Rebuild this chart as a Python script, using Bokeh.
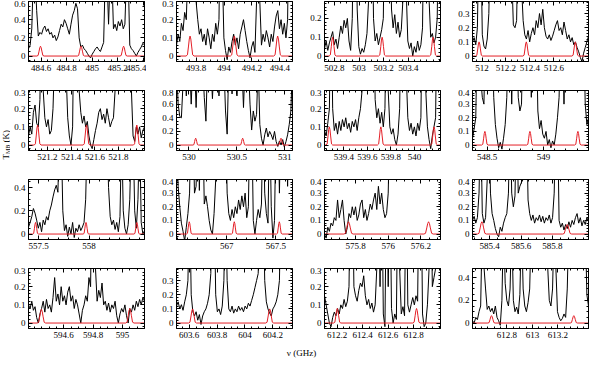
import numpy as np
from bokeh.plotting import figure
from bokeh.layouts import row, column
from bokeh.models import Range1d, LinearAxis, FixedTicker, CustomJSTickFormatter, CustomLabelingPolicy
from bokeh.core.properties import value
from bokeh.embed import file_html
from bokeh.resources import INLINE

FONT = "Liberation Serif"
RED = "#e41e26"

# ---------------- data ----------------
# frequency limits of each panel (GHz)
x_lo = [484.50, 493.66, 502.72, 511.92, 521.04, 529.87, 539.236, 548.37,
        557.40, 566.49, 575.61, 585.29, 594.36, 603.51, 612.10, 612.53]
x_hi = [485.41, 494.49, 503.66, 512.89, 522.02, 531.08, 540.22, 549.40,
        558.55, 567.67, 576.32, 586.03, 595.15, 604.34, 613.01, 613.44]
# upper limit of T_MB axis (K)
y_top = [0.6, 0.3, 0.29, 0.385, 0.3, 0.8, 0.3, 0.4,
         0.47, 0.4, 0.4, 0.4, 0.3, 0.386, 0.3, 0.48]

x_tick_labels = [
    ["484.6", "484.8", "485", "485.2", "485.4"],
    ["493.8", "494", "494.2", "494.4"],
    ["502.8", "503", "503.2", "503.4"],
    ["512", "512.2", "512.4", "512.6"],
    ["521.2", "521.4", "521.6", "521.8"],
    ["530", "530.5", "531"],
    ["539.4", "539.6", "539.8", "540"],
    ["548.5", "549"],
    ["557.5", "558"],
    ["567", "567.5"],
    ["575.8", "576", "576.2"],
    ["585.4", "585.6", "585.8"],
    ["594.6", "594.8", "595"],
    ["603.6", "603.8", "604", "604.2"],
    ["612.2", "612.4", "612.6", "612.8"],
    ["612.8", "613", "613.2"],
]
y_tick_labels = [
    ["0", "0.2", "0.4", "0.6"],
    ["0", "0.1", "0.2", "0.3"],
    ["0", "0.1", "0.2"],
    ["0", "0.1", "0.2", "0.3"],
    ["0", "0.1", "0.2", "0.3"],
    ["0", "0.2", "0.4", "0.6", "0.8"],
    ["0", "0.1", "0.2", "0.3"],
    ["0", "0.1", "0.2", "0.3", "0.4"],
    ["0", "0.2", "0.4"],
    ["0", "0.1", "0.2", "0.3", "0.4"],
    ["0", "0.1", "0.2", "0.3", "0.4"],
    ["0", "0.1", "0.2", "0.3", "0.4"],
    ["0", "0.1", "0.2", "0.3"],
    ["0", "0.1", "0.2", "0.3"],
    ["0", "0.1", "0.2", "0.3"],
    ["0", "0.2", "0.4"],
]

# observed spectra (K), evenly spaced channels across each panel
spec_p1 = [0.08, 0.12, 0.3, 0.9, 0.9, 0.5, 0.22, 0.26, 0.24, 0.3, 0.33, 0.27, 0.3, 0.24, 0.26, 0.2,
           0.23, 0.17, 0.21, 0.28, 0.35, 0.32, 0.4, 0.36, 0.3, 0.24, 0.35, 0.45, 0.5, 0.58, 0.52, 0.2,
           0.1, 0.12, 0.08, 0.06, 0.03, 0.0, -0.02, 0.02, 0.05, 0.08, 0.1, 0.07, 0.05, 0.1, 0.15, 0.9,
           0.9, 0.35, 0.9, 0.9, 0.3, 0.35, 0.28, 0.38, 0.33, 0.4, 0.3, 0.35, 0.9, 0.9, 0.12, 0.08,
           0.06, 0.03, 0.0, 0.04, 0.07, 0.1, 0.14, 0.12]
spec_p2 = [0.06, 0.12, 0.08, 0.18, 0.14, 0.24, 0.2, 0.5, 0.9, 0.9, 0.9, 0.6, 0.3, 0.2, 0.12, 0.15,
           0.08, 0.12, 0.06, 0.15, 0.1, 0.04, 0.12, 0.08, 0.18, 0.12, 0.2, 0.9, 0.5, 0.1, 0.03, -0.02,
           0.05, 0.02, 0.08, 0.12, 0.06, 0.1, 0.04, 0.12, 0.16, 0.2, 0.14, 0.08, 0.03, -0.01, 0.05, 0.08,
           0.02, 0.3, 0.9, 0.3, 0.06, 0.12, 0.08, 0.14, 0.1, 0.05, 0.12, 0.08, 0.16, 0.22, 0.25, 0.15,
           0.2, 0.12, 0.18, 0.1, 0.2, 0.9, 0.9, 0.5]
spec_p3 = [0.04, 0.08, 0.03, 0.07, 0.1, 0.13, 0.06, 0.09, 0.04, 0.1, 0.16, 0.12, 0.19, 0.15, 0.2, 0.08,
           0.03, 0.2, 0.9, 0.9, 0.25, 0.05, 0.01, 0.04, 0.02, 0.06, 0.12, 0.3, 0.9, 0.9, 0.2, 0.08,
           0.12, 0.06, 0.1, 0.14, 0.2, 0.9, 0.9, 0.9, 0.9, 0.25, 0.15, 0.22, 0.12, 0.18, 0.1, 0.14,
           0.3, 0.9, 0.35, 0.08, 0.04, 0.07, 0.0, 0.05, 0.02, 0.08, 0.03, 0.06, 0.15, 0.9, 0.5, 0.9,
           0.3, 0.1, 0.12, 0.07, 0.1, 0.2, 0.9, 0.9]
spec_p4 = [0.1, 0.13, 0.08, 0.2, 0.9, 0.9, 0.15, 0.07, 0.05, 0.12, 0.3, 0.9, 0.9, 0.9, 0.9, 0.9,
           0.9, 0.9, 0.9, 0.9, 0.9, 0.9, 0.9, 0.9, 0.6, 0.22, 0.2, 0.25, 0.9, 0.9, 0.5, 0.25,
           0.15, 0.12, 0.18, 0.1, 0.16, 0.2, 0.15, 0.25, 0.2, 0.3, 0.22, 0.33, 0.2, 0.14, 0.12, 0.15,
           0.11, 0.14, 0.18, 0.22, 0.25, 0.18, 0.2, 0.15, 0.24, 0.18, 0.12, 0.15, 0.1, 0.13, 0.08, 0.1,
           0.06, 0.03, -0.01, -0.04, 0.02, 0.06, 0.1, 0.14]
spec_p5 = [0.05, 0.1, 0.06, 0.18, 0.22, 0.12, 0.1, 0.25, 0.9, 0.3, 0.15, 0.1, 0.14, 0.06, 0.08, 0.2,
           0.5, 0.9, 0.9, 0.9, 0.9, 0.9, 0.9, 0.4, 0.15, 0.05, 0.0, 0.1, 0.9, 0.9, 0.9, 0.3,
           0.18, 0.12, 0.16, 0.1, 0.13, 0.05, 0.0, -0.02, 0.03, 0.08, 0.12, 0.18, 0.2, 0.14, 0.17, 0.12,
           0.2, 0.15, 0.1, 0.13, 0.15, 0.3, 0.9, 0.4, 0.9, 0.9, 0.9, 0.9, 0.9, 0.9, 0.9, 0.3,
           0.05, 0.02, 0.1, 0.06, 0.1, 0.04, 0.08, 0.1]
spec_p6 = [1.2, 0.6, 0.42, 0.4, 0.9, 1.2, 0.72, 1.2, 1.2, 0.6, 1.2, 1.2, 0.55, 1.2, 1.2, 1.2,
           1.2, 0.7, 0.35, 1.2, 1.2, 1.2, 0.68, 1.2, 1.2, 1.2, 0.72, 1.2, 1.2, 1.2, 0.5, 0.16,
           1.2, 1.2, 0.75, 1.2, 1.2, 0.72, 1.2, 1.2, 1.2, 0.55, 1.2, 1.2, 1.2, 0.6, 0.22, 0.5,
           0.35, 0.45, 1.2, 0.3, 0.1, 0.0, 0.15, 0.25, 0.12, 0.2, 0.15, 0.08, 0.2, 0.05, -0.02, 0.06,
           0.0, 0.08, -0.03, 0.05, 0.15, 0.3, 0.5, 1.2]
spec_p7 = [0.08, 0.05, 0.12, 0.2, 0.9, 0.2, 0.08, 0.12, 0.06, 0.13, 0.08, 0.14, 0.1, 0.15, 0.09, 0.12,
           0.07, 0.13, 0.1, 0.14, 0.08, 0.15, 0.2, 0.3, 0.9, 0.9, 0.9, 0.9, 0.9, 0.9, 0.9, 0.25,
           0.15, 0.2, 0.12, 0.18, 0.1, 0.2, 0.9, 0.3, 0.1, 0.06, 0.09, 0.03, 0.0, 0.06, 0.2, 0.9,
           0.9, 0.9, 0.4, 0.15, 0.08, 0.12, 0.06, 0.1, 0.05, 0.12, 0.08, 0.15, 0.9, 0.9, 0.3, 0.1,
           0.03, -0.02, 0.05, 0.1, 0.15, 0.9, 0.9, 0.9]
spec_p8 = [0.05, 0.12, 0.2, 0.9, 0.9, 0.5, 0.35, 0.3, 0.9, 0.9, 0.5, 0.9, 0.9, 0.35, 0.15, 0.05,
           -0.02, 0.02, -0.03, 0.05, 0.15, 0.35, 0.9, 0.9, 0.3, 0.9, 0.9, 0.9, 0.35, 0.25, 0.3, 0.9,
           0.9, 0.9, 0.9, 0.9, 0.35, 0.9, 0.9, 0.9, 0.25, 0.12, 0.18, 0.08, 0.05, 0.1, 0.0, 0.04,
           -0.02, 0.03, 0.0, 0.08, 0.2, 0.35, 0.9, 0.9, 0.3, 0.9, 0.9, 0.9, 0.9, 0.9, 0.9, 0.9,
           0.9, 0.9, 0.9, 0.9, 0.9, 0.3, 0.15, 0.2]
spec_p9 = [0.06, 0.1, 0.15, 0.22, 0.18, 0.12, 0.05, 0.1, 0.02, 0.12, 0.08, 0.15, 0.12, 0.2, 0.25, 0.32,
           0.38, 0.42, 0.36, 0.9, 0.9, 0.2, 0.03, 0.08, -0.02, 0.06, 0.0, 0.1, -0.03, 0.05, 0.02, 0.08,
           0.03, 0.06, 0.1, 0.3, 0.9, 0.9, 0.9, 0.9, 0.9, 0.9, 0.9, 0.9, 0.9, 0.9, 0.9, 0.9,
           0.9, 0.4, 0.15, 0.08, 0.12, 0.04, 0.1, 0.02, 0.15, 0.9, 0.2, 0.05, 0.0, 0.08, 0.3, 0.9,
           0.9, 0.2, 0.05, 0.3, 0.9, 0.1, 0.0, 0.03]
spec_p10 = [0.9, 0.35, 0.2, 0.08, 0.02, -0.05, 0.05, 0.15, 0.3, 0.9, 0.9, 0.3, 0.35, 0.9, 0.32, 0.9,
            0.9, 0.22, 0.28, 0.2, 0.1, 0.03, 0.0, 0.15, 0.4, 0.9, 0.9, 0.9, 0.9, 0.9, 0.9, 0.3,
            0.15, 0.1, 0.18, 0.12, 0.2, 0.15, 0.25, 0.18, 0.28, 0.2, 0.3, 0.12, 0.2, 0.9, 0.9, 0.1,
            0.0, 0.1, 0.18, 0.12, 0.22, 0.9, 0.3, 0.15, 0.08, 0.9, 0.2, -0.03, 0.1, 0.9, 0.9, 0.3,
            0.9, 0.9, 0.9, 0.9, 0.35, 0.9, 0.9, 0.9]
spec_p11 = [0.0, -0.03, 0.05, 0.02, 0.08, 0.06, 0.12, 0.1, 0.25, 0.12, 0.18, 0.25, 0.1, 0.0, 0.05, 0.15,
            0.12, 0.2, 0.14, 0.2, 0.1, 0.14, 0.22, 0.25, 0.12, 0.18, 0.1, 0.15, 0.22, 0.18, 0.25, 0.3,
            0.18, 0.35, 0.22, 0.3, 0.18, 0.12, 0.15, 0.3, 0.9, 0.9, 0.9, 0.9, 0.9, 0.9, 0.9, 0.9,
            0.9, 0.9, 0.9, 0.9, 0.9, 0.9, 0.9, 0.9, 0.9, 0.9, 0.9, 0.9, 0.9, 0.9, 0.9, 0.9,
            0.9, 0.9, 0.9, 0.9, 0.9, 0.9, 0.9, 0.9]
spec_p12 = [0.1, 0.13, 0.08, 0.12, 0.3, 0.9, 0.15, 0.08, 0.12, 0.4, 0.9, 0.3, 0.15, 0.1, 0.04, 0.0,
            -0.02, 0.05, 0.02, 0.08, 0.12, 0.15, 0.3, 0.9, 0.3, 0.2, 0.28, 0.9, 0.3, 0.35, 0.38, 0.4,
            0.45, 0.9, 0.25, 0.15, 0.1, 0.14, 0.08, 0.12, 0.1, 0.14, 0.09, 0.13, 0.08, 0.12, 0.1, 0.14,
            0.08, 0.12, 0.3, 0.9, 0.9, 0.1, 0.05, 0.08, 0.03, 0.07, 0.04, 0.09, 0.05, 0.1, 0.07, 0.12,
            0.15, 0.08, 0.12, 0.06, 0.1, 0.07, 0.12, 0.09]
spec_p13 = [0.1, 0.08, 0.12, 0.07, 0.09, 0.03, 0.0, 0.05, 0.08, 0.12, 0.06, 0.13, 0.08, 0.1, 0.06, 0.14,
            0.25, 0.12, 0.16, 0.1, 0.2, 0.12, 0.15, 0.1, 0.17, 0.2, 0.12, 0.15, 0.08, 0.13, 0.1, 0.05,
            0.0, 0.07, 0.1, 0.15, 0.12, 0.25, 0.2, 0.9, 0.9, 0.3, 0.12, 0.18, 0.14, 0.22, 0.1, 0.12,
            0.07, 0.11, 0.06, 0.1, 0.08, 0.12, 0.04, 0.0, 0.05, 0.08, 0.06, 0.1, 0.04, 0.0, 0.08, 0.06,
            0.1, 0.07, 0.12, 0.09, 0.13, 0.1, 0.14, 0.12]
spec_p14 = [0.12, 0.15, 0.1, 0.13, 0.09, 0.15, 0.2, 0.3, 0.9, 0.2, 0.08, 0.05, 0.08, 0.02, 0.06, -0.01,
            0.05, 0.08, 0.1, 0.14, 0.2, 0.35, 0.9, 0.9, 0.2, 0.08, 0.1, 0.06, 0.12, 0.3, 0.9, 0.3,
            0.1, 0.08, 0.12, 0.07, 0.1, 0.08, 0.12, 0.09, 0.11, 0.08, 0.12, 0.1, 0.14, 0.12, 0.16, 0.2,
            0.25, 0.3, 0.35, 0.9, 0.9, 0.9, 0.3, 0.15, 0.1, 0.07, 0.05, 0.1, 0.12, 0.15, 0.2, 0.3,
            0.9, 0.9, 0.9, 0.9, 0.9, 0.9, 0.9, 0.9]
spec_p15 = [0.15, 0.1, 0.05, 0.0, -0.02, 0.03, 0.06, 0.04, 0.08, 0.05, 0.1, 0.08, 0.13, 0.09, 0.12, 0.2,
            0.9, 0.9, 0.2, 0.15, 0.12, 0.18, 0.22, 0.2, 0.26, 0.15, 0.1, 0.13, 0.08, 0.11, 0.06, 0.1,
            0.3, 0.9, 0.2, 0.9, 0.05, -0.02, 0.9, 0.2, 0.9, 0.08, 0.0, 0.05, 0.02, 0.9, 0.3, 0.05,
            0.09, 0.04, 0.9, 0.1, 0.06, 0.1, 0.14, 0.1, 0.15, 0.12, 0.9, 0.9, 0.05, -0.02, 0.0, 0.1,
            0.3, 0.9, 0.2, 0.25, 0.3, 0.9, 0.9, 0.9]
spec_p16 = [0.02, 0.0, 0.05, 0.03, 0.1, 0.15, 0.9, 0.5, 0.3, 0.12, 0.15, 0.1, 0.13, 0.08, 0.15, 0.05,
            0.02, -0.02, 0.2, 0.9, 0.35, 0.2, 0.15, 0.3, 0.9, 0.2, 0.1, 0.14, 0.08, 0.25, 0.9, 0.3,
            0.15, 0.1, 0.18, 0.3, 0.9, 0.9, 0.9, 0.9, 0.9, 0.9, 0.9, 0.9, 0.9, 0.9, 0.5, 0.2,
            0.15, 0.3, 0.9, 0.5, 0.1, 0.05, 0.02, 0.04, 0.08, 0.05, 0.3, 0.9, 0.9, 0.9, 0.9, 0.9,
            0.9, 0.9, 0.9, 0.9, 0.9, 0.9, 0.25, 0.15]

spectra = [spec_p1, spec_p2, spec_p3, spec_p4, spec_p5, spec_p6, spec_p7, spec_p8,
           spec_p9, spec_p10, spec_p11, spec_p12, spec_p13, spec_p14, spec_p15, spec_p16]

# model line centres (GHz) and peak temperatures (K)
model_centres = [
    [484.594, 484.912, 485.246],
    [493.757, 494.074, 494.384],
    [502.786, 503.187, 503.60],
    [511.975, 512.37, 512.78],
    [521.117, 521.53, 521.955],
    [530.07, 530.56, 530.96],
    [539.277, 539.714, 540.165],
    [548.48, 548.88, 549.306],
    [557.47, 557.97, 558.474],
    [566.62, 567.078, 567.536],
    [575.757, 576.247],
    [585.35, 585.894],
    [594.448, 595.05],
    [603.625, 604.177],
    [612.20, 612.822],
    [612.679, 613.325],
]
model_heights = [
    [0.108, 0.108, 0.108],
    [0.11, 0.11, 0.11],
    [0.1, 0.1, 0.1],
    [0.1, 0.1, 0.1],
    [0.11, 0.11, 0.11],
    [0.1, 0.1, 0.1],
    [0.1, 0.1, 0.1],
    [0.1, 0.1, 0.1],
    [0.1, 0.1, 0.1],
    [0.09, 0.09, 0.09],
    [0.09, 0.09],
    [0.09, 0.07],
    [0.075, 0.08],
    [0.1, 0.1],
    [0.08, 0.08],
    [0.065, 0.065],
]
# line profile template (offsets in half-widths, relative heights)
profile_off = [-2.6, -1.7, -1.0, -0.5, 0.0, 0.5, 1.0, 1.7, 2.6]
profile_rel = [0.0, 0.06, 0.5, 0.85, 1.0, 0.85, 0.5, 0.06, 0.0]
half_width = 0.011  # GHz

# ---------------- helpers ----------------
fmt_code = "return String(Math.round(tick*1000)/1000);"


def minor_list(major, lo, hi):
    step = major[1] - major[0]
    mant = round(step / 10 ** np.floor(np.log10(step)))
    nsub = 4 if mant == 2 else 5
    ms = step / nsub
    start = major[0] - ms * np.ceil((major[0] - lo) / ms - 1e-9)
    return [float(v) for v in np.arange(start, hi + 1e-9, ms)]


def make_axis(ticks, minor, show):
    ax = LinearAxis(ticker=FixedTicker(ticks=ticks, minor_ticks=minor),
                    formatter=CustomJSTickFormatter(code=fmt_code))
    ax.axis_line_color = "black"
    ax.axis_line_width = 1
    ax.major_tick_in = 4
    ax.major_tick_out = 0
    ax.minor_tick_in = 2
    ax.minor_tick_out = 0
    ax.major_tick_line_color = "black"
    ax.minor_tick_line_color = "black"
    ax.major_label_text_font = FONT
    ax.major_label_text_color = "black"
    if show:
        ax.major_label_text_font_size = "9px"
        ax.major_label_standoff = 3
    else:
        ax.major_label_text_font_size = "0px"
        ax.major_label_standoff = 0
        ax.major_label_policy = CustomLabelingPolicy(code="return new Set()")
    return ax


def model_path(k):
    xs = [x_lo[k]]
    ys = [0.0]
    for c, h in zip(model_centres[k], model_heights[k]):
        for o, r in zip(profile_off, profile_rel):
            xs.append(c + o * half_width)
            ys.append(h * r)
    xs.append(x_hi[k])
    ys.append(0.0)
    return xs, ys


FRAME_W = 116
FRAME_H = 60


def make_panel(k, col, rw):
    left = 18 if col == 0 else 30
    width = left + FRAME_W + 2
    bottom = 28 if rw < 3 else 17
    height = 1 + FRAME_H + bottom
    lo, hi = x_lo[k], x_hi[k]
    ytop = y_top[k]
    ybot = -0.1 * ytop
    p = figure(width=width, height=height, x_range=Range1d(lo, hi), y_range=Range1d(ybot, ytop),
               output_backend="svg", toolbar_location=None, x_axis_type=None, y_axis_type=None,
               min_border_left=left, min_border_right=2, min_border_top=1, min_border_bottom=bottom)
    p.outline_line_color = "black"
    p.background_fill_color = "white"
    p.border_fill_color = "white"
    xt = [float(s) for s in x_tick_labels[k]]
    yt = [float(s) for s in y_tick_labels[k]]
    xm = minor_list(xt, lo, hi)
    ym = minor_list(yt, ybot, ytop)
    p.add_layout(make_axis(xt, xm, True), "below")
    p.add_layout(make_axis(xt, xm, False), "above")
    p.add_layout(make_axis(yt, ym, True), "left")
    p.add_layout(make_axis(yt, ym, False), "right")
    ys = spectra[k]
    xs = np.linspace(lo, hi, len(ys))
    p.line(xs, ys, line_color="black", line_width=1)
    rx, ry = model_path(k)
    p.line(rx, ry, line_color=RED, line_width=1)
    return p


rows = []
for r in range(4):
    rows.append(row(*[make_panel(4 * r + c, c, r) for c in range(4)], spacing=0))
grid = column(*rows, spacing=0)
GRID_H = 3 * (1 + FRAME_H + 28) + (1 + FRAME_H + 17)

ylab = figure(width=10, height=GRID_H, x_range=Range1d(0, 10), y_range=Range1d(0, GRID_H),
              output_backend="svg", toolbar_location=None, x_axis_type=None, y_axis_type=None,
              min_border=0)
ylab.outline_line_color = None
ylab.text(x=[5], y=[186], text=["T"], angle=np.pi / 2, text_font=value(FONT),
          text_font_size="9px", text_align="left", text_baseline="middle", text_color="black")
ylab.text(x=[7.5], y=[191.5], text=["MB"], angle=np.pi / 2, text_font=value(FONT),
          text_font_size="6px", text_align="left", text_baseline="middle", text_color="black")
ylab.text(x=[5], y=[203], text=["(K)"], angle=np.pi / 2, text_font=value(FONT),
          text_font_size="9px", text_align="left", text_baseline="middle", text_color="black")

TOTAL_W = 10 + (18 + FRAME_W + 2) + 3 * (30 + FRAME_W + 2)
xlab = figure(width=TOTAL_W, height=14, x_range=Range1d(0, TOTAL_W), y_range=Range1d(0, 14),
              output_backend="svg", toolbar_location=None, x_axis_type=None, y_axis_type=None,
              min_border=0)
xlab.outline_line_color = None
xlab.text(x=[301], y=[7], text=["ν (GHz)"], text_font=value(FONT), text_font_size="9px",
          text_align="center", text_baseline="middle", text_color="black")

page = column(row(ylab, grid, spacing=0), xlab, spacing=0)

open("out.html", "w").write(file_html(page, INLINE))
